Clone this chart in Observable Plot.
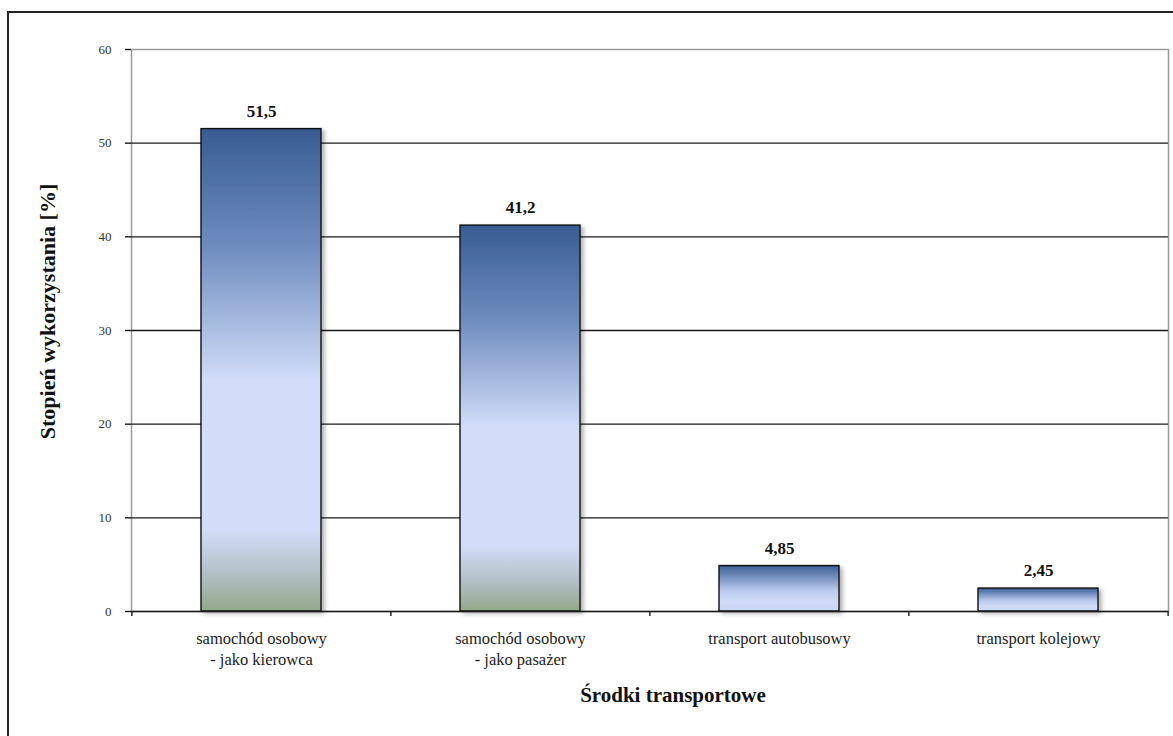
<!DOCTYPE html>
<html>
<head>
<meta charset="utf-8">
<script src="https://cdn.jsdelivr.net/npm/d3@7"></script>
<script src="https://cdn.jsdelivr.net/npm/@observablehq/plot@0.6"></script>
<style>
  html, body { margin: 0; padding: 0; background: #fff; }
  #wrap { position: relative; width: 1173px; height: 736px; overflow: hidden; }
  #border { position: absolute; left: 7px; top: 11px; width: 1200px; height: 740px; border: 2px solid #222; box-sizing: border-box; }
  #chart { position: absolute; left: 0; top: 0; }
  #chart svg { background: transparent; }
</style>
</head>
<body>
<div id="wrap"><div id="border"></div><div id="chart"></div></div>
<script>
const categories = [
  "samochód osobowy\n- jako kierowca",
  "samochód osobowy\n- jako pasażer",
  "transport autobusowy",
  "transport kolejowy"
];
const values = [51.5, 41.2, 4.85, 2.45];
const yTicks = [0, 10, 20, 30, 40, 50, 60];
const yLabel = "Stopień wykorzystania [%]";
const xLabel = "Środki transportowe";

const data = categories.map((c, i) => ({category: c, value: values[i]}));
const W = 1173, H = 736, ML = 131, MR = 5, MT = 49, MB = 125;
const step = (W - ML - MR) / categories.length;

const plot = Plot.plot({
  width: W, height: H,
  marginLeft: ML, marginRight: MR, marginTop: MT, marginBottom: MB,
  style: {fontFamily: "'Liberation Serif', serif", fontSize: "14px", background: "transparent"},
  x: {domain: categories, paddingInner: 0.535, paddingOuter: 0.2675, align: 0.5, label: null},
  y: {domain: [0, 60], label: null},
  marks: [
    Plot.frame({stroke: "#9a9a9a", strokeWidth: 1.5}),
    Plot.ruleY(yTicks.filter(t => t > 0 && t < 60), {stroke: "#1a1a1a", strokeWidth: 1.4}),
    Plot.barY(data.filter(d => d.value > 10), {x: "category", y: "value", fill: "url(#gTall)", stroke: "#111", strokeWidth: 1.4}),
    Plot.barY(data.filter(d => d.value <= 10), {x: "category", y: "value", fill: "url(#gShort)", stroke: "#111", strokeWidth: 1.4}),
    Plot.text(data, {x: "category", y: "value", text: d => String(d.value).replace(".", ","), dy: -18, fontWeight: "bold", fontSize: 17, fill: "#111"}),
    Plot.ruleY([0], {stroke: "#1a1a1a", strokeWidth: 1.6}),
    Plot.ruleX(categories, {x: d => d, y1: 0, y2: 0, insetBottom: -5, dx: -step / 2, stroke: "#1a1a1a", strokeWidth: 1.4}),
    Plot.ruleX(categories.slice(-1), {x: d => d, y1: 0, y2: 0, insetBottom: -5, dx: step / 2, stroke: "#1a1a1a", strokeWidth: 1.4}),
    Plot.axisY({ticks: yTicks, tickSize: 6, tickPadding: 14, line: true, stroke: "#1a1a1a", strokeWidth: 1.4, fill: "#333", fontSize: 13, label: null}),
    Plot.axisX({tickSize: 0, tickPadding: 18, lineHeight: 1.25, fill: "#222", fontSize: 16.5, label: null}),
    Plot.text([yLabel], {frameAnchor: "left", dx: -84, dy: -19, rotate: -90, textAnchor: "middle", fontWeight: "bold", fontSize: 22, letterSpacing: 4, fill: "#111"}),
    Plot.text([xLabel], {frameAnchor: "bottom", dx: 23, dy: 90, fontWeight: "bold", fontSize: 21, fill: "#111"})
  ]
});

const ns = "http://www.w3.org/2000/svg";
const defs = document.createElementNS(ns, "defs");
defs.innerHTML = `
  <linearGradient id="gTall" x1="0" y1="0" x2="0" y2="1">
    <stop offset="0" stop-color="#385c93"/>
    <stop offset="0.25" stop-color="#6f8dbf"/>
    <stop offset="0.52" stop-color="#d0dcf8"/>
    <stop offset="0.83" stop-color="#d2ddf9"/>
    <stop offset="0.92" stop-color="#b4c0c8"/>
    <stop offset="1" stop-color="#93a88a"/>
  </linearGradient>
  <linearGradient id="gShort" x1="0" y1="0" x2="0" y2="1">
    <stop offset="0" stop-color="#3b5f97"/>
    <stop offset="0.55" stop-color="#b9c9ee"/>
    <stop offset="0.8" stop-color="#d0dcf8"/>
    <stop offset="1" stop-color="#c8d4f2"/>
  </linearGradient>
  <filter id="shadow" x="-10%" y="-10%" width="130%" height="130%">
    <feDropShadow dx="3" dy="2" stdDeviation="2" flood-color="#000" flood-opacity="0.3"/>
  </filter>`;
plot.insertBefore(defs, plot.firstChild);
plot.querySelectorAll('g[aria-label="bar"]').forEach(g => g.setAttribute("filter", "url(#shadow)"));
document.getElementById("chart").appendChild(plot);
</script>
</body>
</html>
